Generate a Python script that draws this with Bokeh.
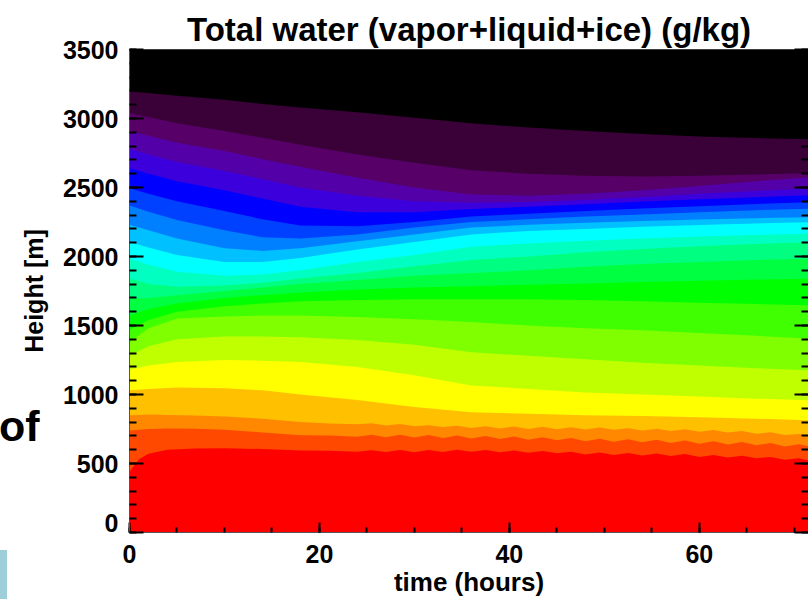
from bokeh.plotting import figure
from bokeh.models import LinearAxis, Range1d, FixedTicker, Div
from bokeh.layouts import row
from bokeh.embed import file_html
from bokeh.resources import INLINE

TITLE = "Total water (vapor+liquid+ice) (g/kg)"
X_LABEL = "time (hours)"
Y_LABEL = "Height [m]"
SLIDE_TEXT = "of"
x_ticks = [0, 20, 40, 60]
x_minor = list(range(0, 75, 5))
y_ticks = [0, 500, 1000, 1500, 2000, 2500, 3000, 3500]
y_minor = list(range(0, 3600, 100))
Y_TOP = 3500

# band colours, bottom -> top
band_colors = ["#ff0000", "#ff4800", "#ff8800", "#ffc000", "#ffff00", "#c0ff00",
               "#80ff00", "#40ff00", "#00ff00", "#00ff40", "#00ff80", "#00ffc0",
               "#00ffff", "#00c0ff", "#0080ff", "#0040ff", "#0000ff", "#3c00dc",
               "#5400a8", "#560068", "#3a0038", "#000000"]

# time grid for the lower (wavy) contour edges
hours_low = [0, 1, 2, 4, 7, 10, 14, 18, 21, 24, 25.5, 27, 28.5, 30, 31.5, 33, 34.5, 36,
             37.5, 39, 40.5, 42, 43.5, 45, 46.5, 48, 49.5, 51, 52.5, 54, 55.5, 57,
             58.5, 60, 61.5, 63, 64.5, 66, 67.5, 69, 70.5, 72]
top_red = [440, 530, 570, 600, 608, 610, 605, 595, 592,
           586, 596, 584, 598, 582, 598, 584, 600, 586, 598, 582, 594, 578, 590, 574,
           586, 566, 580, 562, 576, 558, 572, 554, 568, 548, 562, 544, 556, 538, 548,
           528, 538, 516]
top_orangered = [740, 745, 750, 753, 752, 745, 725, 705, 702,
                 694, 708, 690, 708, 688, 706, 684, 702, 682, 700, 678, 696, 672, 690,
                 668, 684, 662, 680, 658, 676, 654, 672, 648, 666, 644, 662, 638, 656,
                 632, 648, 624, 640, 620]
top_orange = [850, 852, 855, 852, 848, 840, 825, 800, 790,
              784, 792, 776, 786, 770, 778, 764, 774, 758, 770, 754, 768, 750, 766,
              748, 762, 746, 760, 744, 756, 740, 752, 736, 748, 730, 742, 724, 736,
              716, 726, 706, 714, 700]

# time grid for the smoother upper contour edges
hours = [0, 2, 5, 10, 14, 18, 24, 30, 36, 42, 48, 54, 60, 66, 72]
top_amber = [1030, 1040, 1050, 1045, 1030, 1000, 960, 910, 872, 860, 850, 845, 835, 825, 812]
top_yellow = [1180, 1210, 1235, 1250, 1245, 1235, 1200, 1140, 1066, 1040, 1015, 1000, 985, 970, 957]
top_yellowgreen = [1280, 1350, 1400, 1420, 1420, 1415, 1395, 1360, 1307, 1280, 1255, 1230, 1210, 1190, 1175]
top_chartreuse = [1380, 1480, 1550, 1565, 1572, 1572, 1562, 1545, 1525, 1500, 1480, 1465, 1445, 1425, 1404]
top_brightgreen = [1470, 1540, 1600, 1640, 1660, 1675, 1685, 1690, 1690, 1690, 1685, 1675, 1665, 1655, 1646]
top_green = [1570, 1620, 1660, 1700, 1720, 1740, 1760, 1775, 1785, 1795, 1805, 1815, 1825, 1833, 1840]
top_green2 = [1695, 1700, 1720, 1750, 1775, 1800, 1830, 1860, 1880, 1900, 1925, 1945, 1960, 1975, 1985]
top_springgreen = [1840, 1800, 1780, 1790, 1810, 1840, 1880, 1930, 1975, 2000, 2030, 2055, 2075, 2090, 2105]
top_aquamarine = [1985, 1940, 1890, 1860, 1870, 1900, 1960, 2010, 2070, 2095, 2115, 2130, 2145, 2156, 2166]
top_cyan = [2105, 2065, 2010, 1960, 1960, 1990, 2050, 2105, 2160, 2185, 2200, 2215, 2228, 2240, 2250]
top_skyblue = [2230, 2190, 2130, 2060, 2040, 2060, 2110, 2160, 2210, 2230, 2245, 2258, 2268, 2278, 2286]
top_azure = [2370, 2325, 2265, 2190, 2140, 2130, 2160, 2210, 2250, 2270, 2290, 2305, 2320, 2335, 2347]
top_royalblue = [2495, 2455, 2400, 2330, 2270, 2225, 2220, 2250, 2290, 2310, 2330, 2348, 2365, 2380, 2395]
top_blue = [2640, 2600, 2545, 2480, 2420, 2360, 2320, 2320, 2345, 2360, 2378, 2398, 2415, 2430, 2445]
top_indigo = [2780, 2740, 2685, 2620, 2560, 2500, 2440, 2400, 2390, 2395, 2410, 2430, 2455, 2475, 2495]
top_violet = [2910, 2875, 2825, 2765, 2705, 2650, 2570, 2500, 2450, 2440, 2455, 2480, 2510, 2545, 2575]
top_purple = [3040, 3010, 2965, 2910, 2860, 2810, 2740, 2680, 2625, 2600, 2585, 2580, 2585, 2595, 2605]
top_darkpurple = [3195, 3185, 3165, 3135, 3105, 3080, 3045, 3005, 2965, 2935, 2910, 2888, 2870, 2858, 2848]

band_tops = [
    (hours_low, top_red), (hours_low, top_orangered), (hours_low, top_orange),
    (hours, top_amber), (hours, top_yellow), (hours, top_yellowgreen),
    (hours, top_chartreuse), (hours, top_brightgreen), (hours, top_green),
    (hours, top_green2), (hours, top_springgreen), (hours, top_aquamarine),
    (hours, top_cyan), (hours, top_skyblue), (hours, top_azure),
    (hours, top_royalblue), (hours, top_blue), (hours, top_indigo),
    (hours, top_violet), (hours, top_purple), (hours, top_darkpurple),
]

FONT = "Liberation Sans"

p = figure(width=808, height=599, x_range=Range1d(0, 71.5), y_range=Range1d(0, Y_TOP),
           output_backend="svg", toolbar_location=None,
           min_border_left=129, min_border_right=0, min_border_top=49,
           min_border_bottom=67, title=TITLE)
p.title.text_font = FONT
p.title.text_font_size = "33px"
p.title.text_font_style = "bold"
p.title.align = "center"
p.title.text_color = "black"
p.title.offset = 0
p.title.standoff = 4
p.xgrid.visible = False
p.ygrid.visible = False
p.outline_line_color = "#555555"
p.background_fill_color = "white"
p.border_fill_color = "white"

# black top band (whole frame), then lower bands painted over it from the top down
p.varea(x=hours, y1=[0] * len(hours), y2=[Y_TOP] * len(hours), fill_color=band_colors[-1])
for k in range(len(band_tops) - 1, -1, -1):
    hx, top = band_tops[k]
    p.varea(x=hx, y1=[0] * len(hx), y2=top, fill_color=band_colors[k])

def style_axis(ax, major_in, minor_in):
    ax.major_tick_in = major_in
    ax.major_tick_out = 0
    ax.minor_tick_in = minor_in
    ax.minor_tick_out = 0
    ax.major_tick_line_width = 2
    ax.minor_tick_line_width = 2
    ax.major_tick_line_color = "black"
    ax.minor_tick_line_color = "black"
    ax.axis_line_color = "#555555"
    ax.major_label_text_font = FONT
    ax.major_label_text_font_style = "bold"
    ax.major_label_text_color = "black"
    ax.axis_label_text_font = FONT
    ax.axis_label_text_font_style = "bold"
    ax.axis_label_text_color = "black"

xa = p.xaxis[0]
xa.ticker = FixedTicker(ticks=x_ticks, minor_ticks=x_minor)
style_axis(xa, 10, 5)
xa.major_label_text_font_size = "25px"
xa.major_label_standoff = 12
xa.axis_label = X_LABEL
xa.axis_label_text_font_size = "26px"
xa.axis_label_standoff = 1

ya = p.yaxis[0]
ya.ticker = FixedTicker(ticks=y_ticks, minor_ticks=y_minor)
style_axis(ya, 14, 7)
ya.major_label_text_font_size = "25px"
ya.major_label_standoff = 11
# the lowest label sits a little above its tick in the reference
ya.major_label_overrides = {0: "0\n"}
ya.major_label_text_line_height = 0.7
ya.axis_label = Y_LABEL
ya.axis_label_text_font_size = "25px"
ya.axis_label_standoff = 12

ra = LinearAxis(ticker=FixedTicker(ticks=y_ticks, minor_ticks=y_minor))
style_axis(ra, 14, 7)
ra.major_label_text_font_size = "0px"
ra.major_label_standoff = 0
p.add_layout(ra, "right")

# slide remnants left of the chart ("of" and a light-blue bar), as an HTML overlay
overlay_html = (
    '<div style="position:relative;width:0;height:0;">'
    '<div style="position:absolute;left:-1px;top:393px;font:bold 43px \'Liberation Sans\';'
    'line-height:1;color:black;white-space:nowrap;">' + SLIDE_TEXT + '</div>'
    '<div style="position:absolute;left:0px;top:538px;width:7px;height:61px;'
    'background:#9ecfd8;"></div></div>'
)
overlay = Div(text=overlay_html, width=0, height=0, margin=0,
              styles={"position": "absolute", "left": "0px", "top": "0px",
                      "z-index": "10", "overflow": "visible"})

layout = row(p, overlay)
open("out.html", "w").write(file_html(layout, INLINE))
